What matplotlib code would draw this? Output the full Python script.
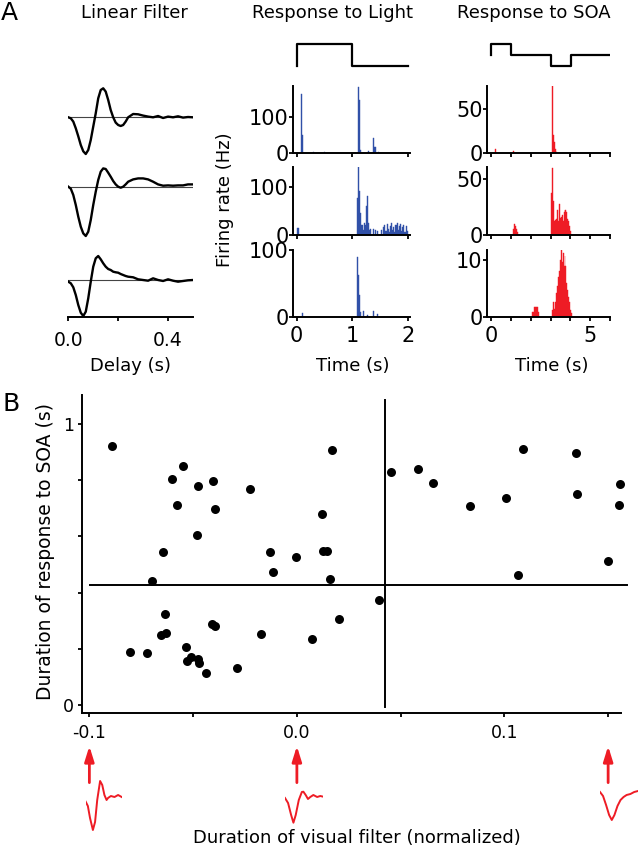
import matplotlib
matplotlib.use("Agg")
import matplotlib.pyplot as plt

# ---- panel A: linear filters (delay in s, amplitude in arbitrary units) ----
filter_delay = [0, .01, .02, .03, .04, .05, .06, .07, .08, .09, .10, .11, .12, .13,
                .14, .15, .16, .17, .18, .19, .20, .21, .22, .23, .24, .26, .28, .30,
                .32, .34, .36, .38, .40, .42, .44, .46, .48, .50]
filter_1 = [0, -1, -4.3, -11, -19, -27.7, -34, -36.7, -32.7, -22.7, -9.3, 4, 19, 27.3,
            29, 25.7, 17.3, 7.3, 0, -5.3, -7.7, -8.7, -7.7, -4.3, 0, 3.3, 3, 1.7,
            0.7, 0, 1.3, -0.7, 0.7, 0, 1, -0.3, 0.3, 0]
filter_2 = [0, -2, -8.3, -18.3, -30, -40, -46.7, -49.3, -45, -33.3, -18.3, -5, 6.7, 15,
            18.3, 17.7, 14, 10, 5.7, 2.3, 0, -1, 0, 2.3, 5, 7.3, 8.3, 8.3,
            7.3, 5, 2.3, 1, 1.3, 1, 1.3, 1.3, 2.3, 2.3]
filter_3 = [-1.7, -3.3, -7.3, -15, -25, -32.7, -36, -31.7, -18.3, -1.7, 13.3, 21.7, 24, 20.7,
            16.7, 13.3, 11, 10, 8.3, 7.7, 7.3, 6, 5, 4, 3.3, 2.7, 0.7, 0,
            -0.7, 1.7, 0, -1, 0.7, -0.7, -1.7, -1, -0.3, 0]

# stimulus time courses (level 0 = dark, 1 = grey, 2 = bright)
light_stim_t = [0, 0, 1, 1, 2]
light_stim_lvl = [0, 2, 2, 0, 0]
soa_stim_t = [0, 0, 1, 1, 3, 3, 4, 4, 6]
soa_stim_lvl = [1, 2, 2, 1, 1, 0, 0, 1, 1]

# PSTH for light (bin centres in s, rate in Hz), bin 0.02 s
light1_t = [0.08, 0.10, 0.30, 0.50, 1.10, 1.12, 1.14, 1.28, 1.38, 1.40, 1.42, 1.46]
light1_r = [165, 50, 1.5, 1.5, 186, 148, 8, 5, 41, 17, 15, 3]
light2_t = [0.02, 0.04, 1.09, 1.11, 1.13, 1.15, 1.17, 1.19, 1.21, 1.23, 1.25, 1.27,
            1.29, 1.31, 1.33, 1.37, 1.41, 1.45, 1.52, 1.56, 1.58, 1.60, 1.62, 1.64,
            1.66, 1.68, 1.70, 1.72, 1.74, 1.76, 1.78, 1.80, 1.82, 1.84, 1.86, 1.88,
            1.90, 1.92, 1.94, 1.96, 1.98]
light2_r = [14, 14, 76, 140, 90, 45, 20, 9, 25, 20, 60, 80,
            25, 9, 12, 12, 10, 8, 10, 15, 20, 8, 22, 12,
            5, 18, 24, 10, 15, 6, 20, 25, 10, 18, 22, 8,
            15, 20, 5, 18, 8]
light3_t = [0.10, 1.09, 1.11, 1.13, 1.15, 1.19, 1.27, 1.37, 1.45]
light3_r = [6, 90, 63, 33, 8, 9, 4, 9, 5]

# PSTH for SOA, bin 0.05 s
soa1_t = [0.20, 1.15, 3.08, 3.13, 3.18, 3.23, 3.30]
soa1_r = [4, 2.5, 77, 20, 12, 4, 1]
soa2_t = [1.15, 1.20, 1.25, 1.30, 1.35, 3.03, 3.08, 3.13, 3.18, 3.23, 3.28, 3.33,
          3.38, 3.43, 3.48, 3.53, 3.58, 3.63, 3.68, 3.73, 3.78, 3.83, 3.88, 3.93,
          3.98, 4.03]
soa2_r = [5, 10, 8, 5, 2, 37, 60, 30, 12, 13, 14, 22,
          12, 28, 15, 16, 18, 12, 20, 22, 22, 20, 14, 12,
          8, 3]
soa3_t = [2.10, 2.15, 2.20, 2.25, 2.30, 2.35, 2.40, 3.08, 3.13, 3.18, 3.23, 3.28,
          3.33, 3.38, 3.43, 3.48, 3.53, 3.58, 3.63, 3.68, 3.73, 3.78, 3.83, 3.88,
          3.93, 3.98, 4.03, 4.08]
soa3_r = [0.9, 0.9, 1.8, 1.8, 1.8, 1.8, 0.9, 1.2, 2.7, 1.5, 2.7, 4.2,
          5.5, 7.0, 8.0, 10.0, 11.6, 9.5, 11.2, 8.8, 10.6, 8.8, 6.0, 4.8,
          3.5, 2.7, 1.3, 0.8]

# ---- panel B: scatter ----
filter_dur = [-0.0891, -0.0551, -0.0600, -0.0478, -0.0402, -0.0224, -0.0577, -0.0394,
              -0.0482, -0.0644, -0.0130, -0.0005, -0.0114, -0.0699, 0.0123, 0.0128,
              0.0145, 0.0170, 0.0162, -0.0636, -0.0657, -0.0631, -0.0806, -0.0721,
              -0.0410, -0.0397, -0.0534, -0.0530, -0.0510, -0.0476, -0.0474, -0.0439,
              -0.0290, -0.0175, 0.0072, 0.0202, 0.0396, 0.0455, 0.0585, 0.0654,
              0.0835, 0.1007, 0.1091, 0.1066, 0.1343, 0.1349, 0.1559, 0.1553, 0.1500]
soa_dur = [0.922, 0.851, 0.805, 0.779, 0.797, 0.769, 0.713, 0.697,
           0.606, 0.543, 0.543, 0.527, 0.472, 0.442, 0.680, 0.549,
           0.549, 0.907, 0.450, 0.324, 0.248, 0.257, 0.190, 0.186,
           0.289, 0.280, 0.206, 0.158, 0.172, 0.163, 0.151, 0.113,
           0.131, 0.252, 0.234, 0.307, 0.372, 0.828, 0.839, 0.789,
           0.708, 0.735, 0.911, 0.463, 0.898, 0.752, 0.785, 0.711, 0.512]
soa_threshold = 0.427
filter_threshold = 0.0423

# example filters shown under the x axis
example_x = [-0.1, 0.0, 0.15]
ex1_t = [0, .03, .06, .10, .13, .16, .20, .23, .26, .29, .31, .35, .40, .45, .50]
ex1_v = [-3.7, -8, -20, -32, -24, -2, 17, 13, 3, -2, 0, 2, 1, 3, 1]
ex2_t = [0, .04, .08, .11, .14, .18, .22, .24, .27, .30, .33, .37, .42, .46, .50]
ex2_v = [-1, -6, -18, -25.7, -18, -3, 5, 5.3, 2, -2, 0, 2, 0, 1, 0.3]
ex3_t = [0, .04, .08, .12, .155, .19, .23, .27, .31, .35, .40, .45, .50]
ex3_v = [0, -4, -13, -23, -28, -23, -14, -8, -5, -3, -2, 0, 1]

BLUE = "#3050a8"
RED = "#ee1c25"

W, H = 640, 852
fig = plt.figure(figsize=(6.4, 8.52), dpi=100)


def box(x0, x1, y0, y1):
    # pixel box -> figure fraction
    return [x0 / W, 1 - y1 / H, (x1 - x0) / W, (y1 - y0) / H]


def fig_text(x, y, s, **kw):
    fig.text(x / W, 1 - y / H, s, ha="center", va="center", **kw)


def clean(ax, left=True, size=15, pad=1):
    ax.spines["top"].set_visible(False)
    ax.spines["right"].set_visible(False)
    ax.spines["left"].set_visible(left)
    for s in ["left", "bottom"]:
        ax.spines[s].set_linewidth(1.4)
    ax.tick_params(direction="out", length=3, width=1.3, labelsize=size, pad=pad)
    ax.patch.set_alpha(0)


# --- linear filters ---
axf = fig.add_axes(box(68.3, 193, 85, 316.7))
offsets = [199.4, 130, 36.7]
for trace, off in zip([filter_1, filter_2, filter_3], offsets):
    axf.axhline(off, color="#444444", lw=0.8)
    axf.plot(filter_delay, [v + off for v in trace], color="black", lw=1.7)
axf.set_xlim(0, 0.5)
axf.set_ylim(0, 231.7)
axf.set_yticks([])
axf.set_xticks([0, 0.2, 0.4], ["0.0", "", "0.4"])
clean(axf, left=False, size=13.5, pad=7)

# --- histograms ---
rows = [(86, 152.7), (167.3, 234.7), (250.3, 317.3)]
light_data = [(light1_t, light1_r, 188), (light2_t, light2_r, 140), (light3_t, light3_r, 100)]
soa_data = [(soa1_t, soa1_r, 77), (soa2_t, soa2_r, 60.5), (soa3_t, soa3_r, 11.6)]
light_yt = [[0, 100], [0, 100], [0, 100]]
soa_yt = [[0, 50], [0, 50], [0, 10]]

for i, (y0, y1) in enumerate(rows):
    t, r, top = light_data[i]
    ax = fig.add_axes(box(293.3, 410, y0, y1))
    ax.bar(t, r, width=0.02, color=BLUE, edgecolor=BLUE, linewidth=0.3)
    ax.set_xlim(-0.06, 2.03)
    ax.set_ylim(0, top)
    ax.set_yticks(light_yt[i])
    ax.set_xticks([0, 1, 2], ["0", "1", "2"] if i == 2 else ["", "", ""])
    clean(ax, pad=0.5)
    ax.tick_params(axis="x", pad=3)

    t, r, top = soa_data[i]
    ax = fig.add_axes(box(487.3, 610, y0, y1))
    ax.bar(t, r, width=0.05, color=RED, edgecolor=RED, linewidth=0.3)
    ax.set_xlim(-0.19, 5.98)
    ax.set_ylim(0, top)
    ax.set_yticks(soa_yt[i])
    ax.set_xticks(range(7), ["0", "", "", "", "", "5", ""] if i == 2 else [""] * 7)
    clean(ax, pad=0.5)
    ax.tick_params(axis="x", pad=3)

# --- stimulus traces ---
ax = fig.add_axes(box(293.3, 410, 40, 70))
ax.plot(light_stim_t, light_stim_lvl, color="black", lw=1.6)
ax.set_xlim(-0.06, 2.03)
ax.set_ylim(-0.37, 2.4)
ax.axis("off")
ax = fig.add_axes(box(487.3, 610, 40, 70))
ax.plot(soa_stim_t, soa_stim_lvl, color="black", lw=1.6)
ax.set_xlim(-0.19, 5.98)
ax.set_ylim(-0.37, 2.4)
ax.axis("off")

# --- scatter ---
axs = fig.add_axes(box(81.7, 621, 395, 713))
axs.scatter(filter_dur, soa_dur, s=42, color="black", linewidths=0, zorder=3, clip_on=False)
axs.axhline(soa_threshold, xmin=0.0154, xmax=1.011, color="black", lw=1.4, clip_on=False)
axs.axvline(filter_threshold, ymin=0.019, ymax=0.984, color="black", lw=1.4)
axs.set_xlim(-0.1037, 0.1562)
axs.set_ylim(-0.0285, 1.103)
axs.set_xticks([-0.1, -0.05, 0, 0.05, 0.1, 0.15], ["-0.1", "", "0.0", "", "0.1", ""])
axs.set_yticks([0, 0.2, 0.4, 0.6, 0.8, 1.0], ["0", "", "", "", "", "1"])
clean(axs, size=12.5, pad=2.5)
axs.tick_params(axis="x", pad=5)

for ex in example_x:
    axs.annotate("", xy=(ex, -0.104), xytext=(ex, -0.219),
                 xycoords=("data", "axes fraction"), textcoords=("data", "axes fraction"),
                 annotation_clip=False,
                 arrowprops=dict(arrowstyle="-|>,head_length=0.9,head_width=0.28",
                                 color=RED, lw=2, shrinkA=0, shrinkB=0))

insets = [(85.7, 121.7, 775, 835, -37, 23, ex1_t, ex1_v),
          (285, 323.3, 775, 835, -38, 22, ex2_t, ex2_v),
          (600, 638, 770, 830, -38, 22, ex3_t, ex3_v)]
for x0, x1, y0, y1, lo, hi, t, v in insets:
    ax = fig.add_axes(box(x0, x1, y0, y1))
    ax.plot(t, v, color=RED, lw=1.4)
    ax.set_xlim(0, 0.5)
    ax.set_ylim(lo, hi)
    ax.axis("off")

# --- texts ---
fig_text(9, 13, "A", fontsize=18)
fig_text(11, 404, "B", fontsize=18)
fig_text(134, 13, "Linear Filter", fontsize=13)
fig_text(332, 13, "Response to Light", fontsize=13)
fig_text(534, 13, "Response to SOA", fontsize=13)
fig_text(131, 366, "Delay (s)", fontsize=13)
fig_text(352.5, 366, "Time (s)", fontsize=13)
fig_text(552, 366, "Time (s)", fontsize=13)
fig_text(225, 200, "Firing rate (Hz)", fontsize=13, rotation=90)
fig_text(46, 552, "Duration of response to SOA (s)", fontsize=13.5, rotation=90)
fig_text(357, 838, "Duration of visual filter (normalized)", fontsize=13)

fig.savefig("out.png", dpi=100)
